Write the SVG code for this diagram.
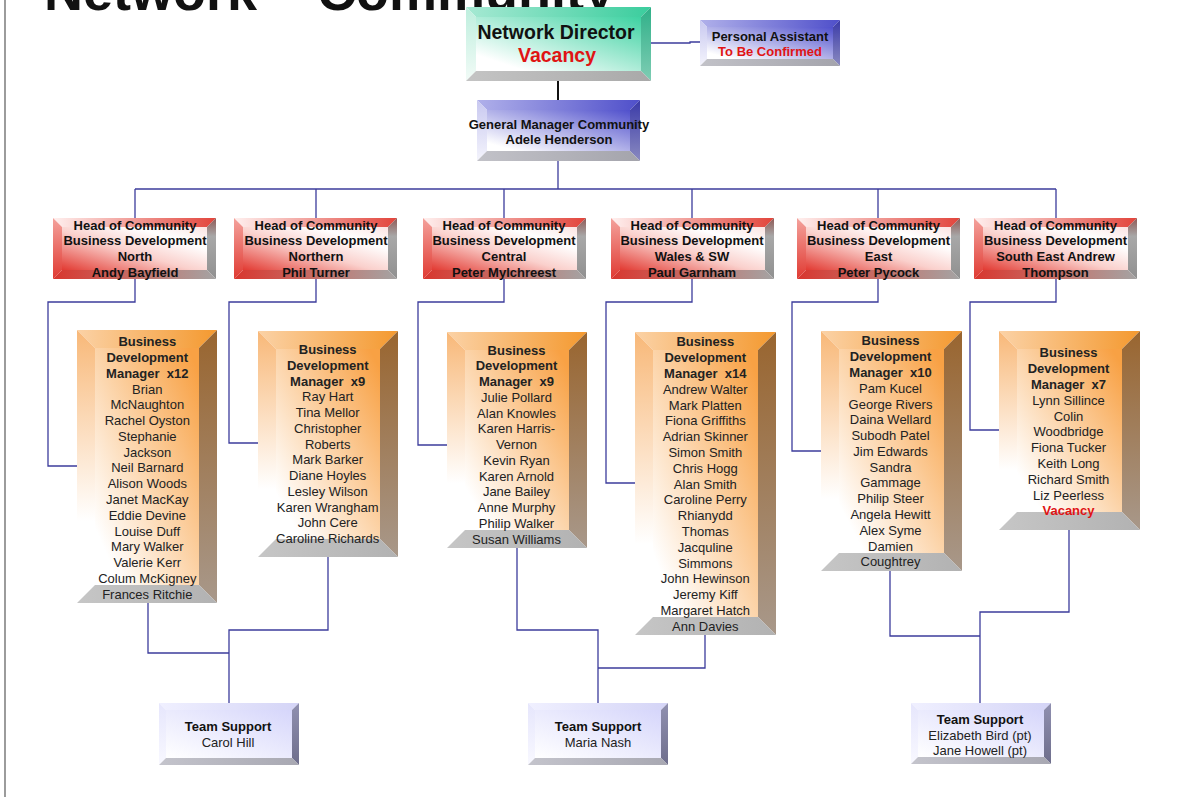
<svg xmlns="http://www.w3.org/2000/svg" width="1183" height="811" viewBox="0 0 1183 811">
<style>
text{font-family:"Liberation Sans",Arial,Helvetica,sans-serif;text-anchor:middle;fill:#111;font-size:13px}
.b{font-weight:bold}
.red{fill:#e01414}
.nm{fill:#222}
.c{fill:none;stroke:#3c3c9c;stroke-width:1.3}
.gT{fill:url(#gT)}.gL{fill:url(#gL)}.gR{fill:url(#gR)}.gB{fill:url(#gB)}.gF{fill:url(#gF)}
.bT{fill:url(#bT)}.bL{fill:url(#bL)}.bR{fill:url(#bR)}.bB{fill:url(#bB)}.bF{fill:url(#bF)}
.rT{fill:url(#rT)}.rL{fill:url(#rL)}.rR{fill:url(#rR)}.rB{fill:url(#rB)}.rF{fill:url(#rF)}
.oT{fill:url(#oT)}.oL{fill:url(#oL)}.oR{fill:url(#oR)}.oB{fill:url(#oB)}.oF{fill:url(#oF)}
.lT{fill:url(#lT)}.lL{fill:url(#lL)}.lR{fill:url(#lR)}.lB{fill:url(#lB)}.lF{fill:url(#lF)}
</style>
<defs>
<linearGradient id="gF" x1="0" y1="1" x2="1" y2="0"><stop offset="0.15" stop-color="#ffffff"/><stop offset="1" stop-color="#3ed2a2"/></linearGradient>
<linearGradient id="gT" x1="0" y1="0" x2="1" y2="0"><stop offset="0" stop-color="#a6e9d3"/><stop offset="1" stop-color="#3acd9d"/></linearGradient>
<linearGradient id="gL" x1="0" y1="0" x2="0" y2="1"><stop offset="0" stop-color="#bdeedd"/><stop offset="1" stop-color="#f2fbf7"/></linearGradient>
<linearGradient id="gR" x1="0" y1="0" x2="0" y2="1"><stop offset="0" stop-color="#2fb088"/><stop offset="1" stop-color="#7fcdb4"/></linearGradient>
<linearGradient id="gB" x1="0" y1="0" x2="1" y2="0"><stop offset="0" stop-color="#c4c4c4"/><stop offset="1" stop-color="#a9a9a9"/></linearGradient>

<linearGradient id="bF" x1="0" y1="1" x2="1" y2="0"><stop offset="0.1" stop-color="#ffffff"/><stop offset="1" stop-color="#5050cc"/></linearGradient>
<linearGradient id="bT" x1="0" y1="0" x2="1" y2="0"><stop offset="0" stop-color="#b0b0ea"/><stop offset="1" stop-color="#4f4fca"/></linearGradient>
<linearGradient id="bL" x1="0" y1="0" x2="0" y2="1"><stop offset="0" stop-color="#c8c8f0"/><stop offset="1" stop-color="#f4f4fc"/></linearGradient>
<linearGradient id="bR" x1="0" y1="0" x2="0" y2="1"><stop offset="0" stop-color="#3a3aa8"/><stop offset="1" stop-color="#8a8ac0"/></linearGradient>
<linearGradient id="bB" x1="0" y1="0" x2="1" y2="0"><stop offset="0" stop-color="#c2c2c8"/><stop offset="1" stop-color="#a4a4ac"/></linearGradient>

<linearGradient id="rF" x1="0" y1="1" x2="1" y2="0"><stop offset="0" stop-color="#e23a32"/><stop offset="0.45" stop-color="#fad0cc"/><stop offset="0.75" stop-color="#ffffff"/><stop offset="1" stop-color="#fbe4e2"/></linearGradient>
<linearGradient id="rT" x1="0" y1="0" x2="1" y2="0"><stop offset="0" stop-color="#fff0ef"/><stop offset="1" stop-color="#e2443b"/></linearGradient>
<linearGradient id="rL" x1="0" y1="0" x2="0" y2="1"><stop offset="0" stop-color="#f4a29c"/><stop offset="1" stop-color="#e03a32"/></linearGradient>
<linearGradient id="rR" x1="0" y1="0" x2="0" y2="1"><stop offset="0" stop-color="#8e5a56"/><stop offset="0.3" stop-color="#a8a8a8"/><stop offset="1" stop-color="#909090"/></linearGradient>
<linearGradient id="rB" x1="0" y1="0" x2="1" y2="0"><stop offset="0" stop-color="#d8362e"/><stop offset="0.6" stop-color="#c07a74"/><stop offset="1" stop-color="#a4a4a4"/></linearGradient>

<linearGradient id="oF" x1="0" y1="1" x2="1" y2="0"><stop offset="0.12" stop-color="#ffffff"/><stop offset="0.95" stop-color="#f8a144"/></linearGradient>
<linearGradient id="oT" x1="0" y1="0" x2="1" y2="0"><stop offset="0" stop-color="#fbd2a6"/><stop offset="1" stop-color="#f4992f"/></linearGradient>
<linearGradient id="oL" x1="0" y1="0" x2="0" y2="1"><stop offset="0" stop-color="#f8b878"/><stop offset="0.7" stop-color="#ffffff"/></linearGradient>
<linearGradient id="oR" x1="0" y1="0" x2="0" y2="1"><stop offset="0" stop-color="#99652f"/><stop offset="1" stop-color="#a8988a"/></linearGradient>
<linearGradient id="oB" x1="0" y1="0" x2="1" y2="0"><stop offset="0" stop-color="#c6c6c6"/><stop offset="1" stop-color="#b2b2b2"/></linearGradient>

<linearGradient id="lF" x1="0" y1="1" x2="1" y2="0"><stop offset="0" stop-color="#ffffff"/><stop offset="1" stop-color="#d6d6fb"/></linearGradient>
<linearGradient id="lT" x1="0" y1="0" x2="1" y2="0"><stop offset="0" stop-color="#f0f0ff"/><stop offset="1" stop-color="#d4d4f6"/></linearGradient>
<linearGradient id="lL" x1="0" y1="0" x2="0" y2="1"><stop offset="0" stop-color="#e6e6fc"/><stop offset="1" stop-color="#f8f8ff"/></linearGradient>
<linearGradient id="lR" x1="0" y1="0" x2="0" y2="1"><stop offset="0" stop-color="#9090b0"/><stop offset="1" stop-color="#6e6e8c"/></linearGradient>
<linearGradient id="lB" x1="0" y1="0" x2="1" y2="0"><stop offset="0" stop-color="#c4c4cc"/><stop offset="1" stop-color="#a8a8b2"/></linearGradient>
</defs>

<rect x="0" y="0" width="1183" height="811" fill="#ffffff"/>
<line x1="5" y1="0" x2="5" y2="797" stroke="#666" stroke-width="1.3"/>
<text x="44" y="10" class="b" style="font-size:54px;text-anchor:start;fill:#111">Network – Community</text>

<g id="connectors">
<path class="c" d="M651 43 H690 V42 H700"/>
<path d="M558 81 V100" fill="none" stroke="#111" stroke-width="2"/>
<path class="c" d="M558 161 V189 M135 189 H1056 M135 189 V218 M316 189 V218 M504 189 V218 M692 189 V218 M878 189 V218 M1056 189 V218"/>
<path class="c" d="M135 279 V302 H48 V466 H77"/>
<path class="c" d="M316 279 V302 H229 V443 H258"/>
<path class="c" d="M504 279 V302 H418 V445 H447"/>
<path class="c" d="M692 279 V302 H606 V483 H635"/>
<path class="c" d="M878 279 V302 H792 V451 H821"/>
<path class="c" d="M1056 279 V302 H970 V430 H999"/>
<path class="c" d="M148 603 V653 H229 M328 557 V630 H229 V703"/>
<path class="c" d="M517 548 V630 H598 V703 M705 635 V668 H598"/>
<path class="c" d="M890 571 V636 H980 M1069 530 V612 H980 V703"/>
</g>

<g id="network-director">
<polygon class="gT" points="466,7 651,7 641,17 476,17"/>
<polygon class="gL" points="466,7 476,17 476,71 466,81"/>
<polygon class="gR" points="651,7 651,81 641,71 641,17"/>
<polygon class="gB" points="466,81 476,71 641,71 651,81"/>
<rect class="gF" x="476" y="17" width="165" height="54"/>
<text x="556" y="38.5" class="b" style="font-size:19.5px">Network Director</text>
<text x="557" y="62" class="b red" style="font-size:19.5px">Vacancy</text>
</g>

<g id="personal-assistant">
<polygon class="bT" points="700,20 840,20 833,27 707,27"/>
<polygon class="bL" points="700,20 707,27 707,59 700,66"/>
<polygon class="bR" points="840,20 840,66 833,59 833,27"/>
<polygon class="bB" points="700,66 707,59 833,59 840,66"/>
<rect class="bF" x="707" y="27" width="126" height="32"/>
<text x="770" y="40.5" class="b">Personal Assistant</text>
<text x="770" y="55.5" class="b red">To Be Confirmed</text>
</g>

<g id="general-manager">
<polygon class="bT" points="477,100 640,100 630,110 487,110"/>
<polygon class="bL" points="477,100 487,110 487,151 477,161"/>
<polygon class="bR" points="640,100 640,161 630,151 630,110"/>
<polygon class="bB" points="477,161 487,151 630,151 640,161"/>
<rect class="bF" x="487" y="110" width="143" height="41"/>
<text x="559" y="128.5" class="b">General Manager Community</text>
<text x="559" y="143.5" class="b">Adele Henderson</text>
</g>

<g id="head-north">
<polygon class="rT" points="53,218 216,218 207,227 62,227"/>
<polygon class="rL" points="53,218 62,227 62,270 53,279"/>
<polygon class="rR" points="216,218 216,279 207,270 207,227"/>
<polygon class="rB" points="53,279 62,270 207,270 216,279"/>
<rect class="rF" x="62" y="227" width="145" height="43"/>
<text class="b" y="229.5"><tspan x="135">Head of Community</tspan><tspan x="135" dy="15.7">Business Development</tspan><tspan x="135" dy="15.7">North</tspan><tspan x="135" dy="15.7">Andy Bayfield</tspan></text>
</g>

<g id="head-northern">
<polygon class="rT" points="234,218 397,218 388,227 243,227"/>
<polygon class="rL" points="234,218 243,227 243,270 234,279"/>
<polygon class="rR" points="397,218 397,279 388,270 388,227"/>
<polygon class="rB" points="234,279 243,270 388,270 397,279"/>
<rect class="rF" x="243" y="227" width="145" height="43"/>
<text class="b" y="229.5"><tspan x="316">Head of Community</tspan><tspan x="316" dy="15.7">Business Development</tspan><tspan x="316" dy="15.7">Northern</tspan><tspan x="316" dy="15.7">Phil Turner</tspan></text>
</g>

<g id="head-central">
<polygon class="rT" points="423,218 586,218 577,227 432,227"/>
<polygon class="rL" points="423,218 432,227 432,270 423,279"/>
<polygon class="rR" points="586,218 586,279 577,270 577,227"/>
<polygon class="rB" points="423,279 432,270 577,270 586,279"/>
<rect class="rF" x="432" y="227" width="145" height="43"/>
<text class="b" y="229.5"><tspan x="504">Head of Community</tspan><tspan x="504" dy="15.7">Business Development</tspan><tspan x="504" dy="15.7">Central</tspan><tspan x="504" dy="15.7">Peter Mylchreest</tspan></text>
</g>

<g id="head-wales-sw">
<polygon class="rT" points="611,218 774,218 765,227 620,227"/>
<polygon class="rL" points="611,218 620,227 620,270 611,279"/>
<polygon class="rR" points="774,218 774,279 765,270 765,227"/>
<polygon class="rB" points="611,279 620,270 765,270 774,279"/>
<rect class="rF" x="620" y="227" width="145" height="43"/>
<text class="b" y="229.5"><tspan x="692">Head of Community</tspan><tspan x="692" dy="15.7">Business Development</tspan><tspan x="692" dy="15.7">Wales &amp; SW</tspan><tspan x="692" dy="15.7">Paul Garnham</tspan></text>
</g>

<g id="head-east">
<polygon class="rT" points="797,218 960,218 951,227 806,227"/>
<polygon class="rL" points="797,218 806,227 806,270 797,279"/>
<polygon class="rR" points="960,218 960,279 951,270 951,227"/>
<polygon class="rB" points="797,279 806,270 951,270 960,279"/>
<rect class="rF" x="806" y="227" width="145" height="43"/>
<text class="b" y="229.5"><tspan x="878.5">Head of Community</tspan><tspan x="878.5" dy="15.7">Business Development</tspan><tspan x="878.5" dy="15.7">East</tspan><tspan x="878.5" dy="15.7">Peter Pycock</tspan></text>
</g>

<g id="head-south-east">
<polygon class="rT" points="974,218 1137,218 1128,227 983,227"/>
<polygon class="rL" points="974,218 983,227 983,270 974,279"/>
<polygon class="rR" points="1137,218 1137,279 1128,270 1128,227"/>
<polygon class="rB" points="974,279 983,270 1128,270 1137,279"/>
<rect class="rF" x="983" y="227" width="145" height="43"/>
<text class="b" y="229.5"><tspan x="1055.5">Head of Community</tspan><tspan x="1055.5" dy="15.7">Business Development</tspan><tspan x="1055.5" dy="15.7">South East Andrew</tspan><tspan x="1055.5" dy="15.7">Thompson</tspan></text>
</g>

<g id="bdm-north">
<polygon class="oT" points="77,330 217,330 199,348 95,348"/>
<polygon class="oL" points="77,330 95,348 95,585 77,603"/>
<polygon class="oR" points="217,330 217,603 199,585 199,348"/>
<polygon class="oB" points="77,603 95,585 199,585 217,603"/>
<rect class="oF" x="95" y="348" width="104" height="237"/>
<text class="nm" y="346.3"><tspan x="147.3" class="b">Business</tspan><tspan x="147.3" dy="15.77" class="b">Development</tspan><tspan x="147.3" dy="15.77" class="b">Manager&#160; x12</tspan><tspan x="147.3" dy="15.77">Brian</tspan><tspan x="147.3" dy="15.77">McNaughton</tspan><tspan x="147.3" dy="15.77">Rachel Oyston</tspan><tspan x="147.3" dy="15.77">Stephanie</tspan><tspan x="147.3" dy="15.77">Jackson</tspan><tspan x="147.3" dy="15.77">Neil Barnard</tspan><tspan x="147.3" dy="15.77">Alison Woods</tspan><tspan x="147.3" dy="15.77">Janet MacKay</tspan><tspan x="147.3" dy="15.77">Eddie Devine</tspan><tspan x="147.3" dy="15.77">Louise Duff</tspan><tspan x="147.3" dy="15.77">Mary Walker</tspan><tspan x="147.3" dy="15.77">Valerie Kerr</tspan><tspan x="147.3" dy="15.77">Colum McKigney</tspan><tspan x="147.3" dy="15.77">Frances Ritchie</tspan></text>
</g>

<g id="bdm-northern">
<polygon class="oT" points="258,331 398,331 380,349 276,349"/>
<polygon class="oL" points="258,331 276,349 276,539 258,557"/>
<polygon class="oR" points="398,331 398,557 380,539 380,349"/>
<polygon class="oB" points="258,557 276,539 380,539 398,557"/>
<rect class="oF" x="276" y="349" width="104" height="190"/>
<text class="nm" y="354"><tspan x="327.7" class="b">Business</tspan><tspan x="327.7" dy="15.75" class="b">Development</tspan><tspan x="327.7" dy="15.75" class="b">Manager&#160; x9</tspan><tspan x="327.7" dy="15.75">Ray Hart</tspan><tspan x="327.7" dy="15.75">Tina Mellor</tspan><tspan x="327.7" dy="15.75">Christopher</tspan><tspan x="327.7" dy="15.75">Roberts</tspan><tspan x="327.7" dy="15.75">Mark Barker</tspan><tspan x="327.7" dy="15.75">Diane Hoyles</tspan><tspan x="327.7" dy="15.75">Lesley Wilson</tspan><tspan x="327.7" dy="15.75">Karen Wrangham</tspan><tspan x="327.7" dy="15.75">John Cere</tspan><tspan x="327.7" dy="15.75">Caroline Richards</tspan></text>
</g>

<g id="bdm-central">
<polygon class="oT" points="447,332 587,332 569,350 465,350"/>
<polygon class="oL" points="447,332 465,350 465,530 447,548"/>
<polygon class="oR" points="587,332 587,548 569,530 569,350"/>
<polygon class="oB" points="447,548 465,530 569,530 587,548"/>
<rect class="oF" x="465" y="350" width="104" height="180"/>
<text class="nm" y="354.7"><tspan x="516.5" class="b">Business</tspan><tspan x="516.5" dy="15.75" class="b">Development</tspan><tspan x="516.5" dy="15.75" class="b">Manager&#160; x9</tspan><tspan x="516.5" dy="15.75">Julie Pollard</tspan><tspan x="516.5" dy="15.75">Alan Knowles</tspan><tspan x="516.5" dy="15.75">Karen Harris-</tspan><tspan x="516.5" dy="15.75">Vernon</tspan><tspan x="516.5" dy="15.75">Kevin Ryan</tspan><tspan x="516.5" dy="15.75">Karen Arnold</tspan><tspan x="516.5" dy="15.75">Jane Bailey</tspan><tspan x="516.5" dy="15.75">Anne Murphy</tspan><tspan x="516.5" dy="15.75">Philip Walker</tspan><tspan x="516.5" dy="15.75">Susan Williams</tspan></text>
</g>

<g id="bdm-wales-sw">
<polygon class="oT" points="635,332 776,332 758,350 653,350"/>
<polygon class="oL" points="635,332 653,350 653,617 635,635"/>
<polygon class="oR" points="776,332 776,635 758,617 758,350"/>
<polygon class="oB" points="635,635 653,617 758,617 776,635"/>
<rect class="oF" x="653" y="350" width="105" height="267"/>
<text class="nm" y="346.4"><tspan x="705.3" class="b">Business</tspan><tspan x="705.3" dy="15.8" class="b">Development</tspan><tspan x="705.3" dy="15.8" class="b">Manager&#160; x14</tspan><tspan x="705.3" dy="15.8">Andrew Walter</tspan><tspan x="705.3" dy="15.8">Mark Platten</tspan><tspan x="705.3" dy="15.8">Fiona Griffiths</tspan><tspan x="705.3" dy="15.8">Adrian Skinner</tspan><tspan x="705.3" dy="15.8">Simon Smith</tspan><tspan x="705.3" dy="15.8">Chris Hogg</tspan><tspan x="705.3" dy="15.8">Alan Smith</tspan><tspan x="705.3" dy="15.8">Caroline Perry</tspan><tspan x="705.3" dy="15.8">Rhianydd</tspan><tspan x="705.3" dy="15.8">Thomas</tspan><tspan x="705.3" dy="15.8">Jacquline</tspan><tspan x="705.3" dy="15.8">Simmons</tspan><tspan x="705.3" dy="15.8">John Hewinson</tspan><tspan x="705.3" dy="15.8">Jeremy Kiff</tspan><tspan x="705.3" dy="15.8">Margaret Hatch</tspan><tspan x="705.3" dy="15.8">Ann Davies</tspan></text>
</g>

<g id="bdm-east">
<polygon class="oT" points="821,331 962,331 944,349 839,349"/>
<polygon class="oL" points="821,331 839,349 839,553 821,571"/>
<polygon class="oR" points="962,331 962,571 944,553 944,349"/>
<polygon class="oB" points="821,571 839,553 944,553 962,571"/>
<rect class="oF" x="839" y="349" width="105" height="204"/>
<text class="nm" y="345.4"><tspan x="890.5" class="b">Business</tspan><tspan x="890.5" dy="15.78" class="b">Development</tspan><tspan x="890.5" dy="15.78" class="b">Manager&#160; x10</tspan><tspan x="890.5" dy="15.78">Pam Kucel</tspan><tspan x="890.5" dy="15.78">George Rivers</tspan><tspan x="890.5" dy="15.78">Daina Wellard</tspan><tspan x="890.5" dy="15.78">Subodh Patel</tspan><tspan x="890.5" dy="15.78">Jim Edwards</tspan><tspan x="890.5" dy="15.78">Sandra</tspan><tspan x="890.5" dy="15.78">Gammage</tspan><tspan x="890.5" dy="15.78">Philip Steer</tspan><tspan x="890.5" dy="15.78">Angela Hewitt</tspan><tspan x="890.5" dy="15.78">Alex Syme</tspan><tspan x="890.5" dy="15.78">Damien</tspan><tspan x="890.5" dy="15.78">Coughtrey</tspan></text>
</g>

<g id="bdm-south-east">
<polygon class="oT" points="999,331 1140,331 1122,349 1017,349"/>
<polygon class="oL" points="999,331 1017,349 1017,512 999,530"/>
<polygon class="oR" points="1140,331 1140,530 1122,512 1122,349"/>
<polygon class="oB" points="999,530 1017,512 1122,512 1140,530"/>
<rect class="oF" x="1017" y="349" width="105" height="163"/>
<text class="nm" y="357.4"><tspan x="1068.5" class="b">Business</tspan><tspan x="1068.5" dy="15.8" class="b">Development</tspan><tspan x="1068.5" dy="15.8" class="b">Manager&#160; x7</tspan><tspan x="1068.5" dy="15.8">Lynn Sillince</tspan><tspan x="1068.5" dy="15.8">Colin</tspan><tspan x="1068.5" dy="15.8">Woodbridge</tspan><tspan x="1068.5" dy="15.8">Fiona Tucker</tspan><tspan x="1068.5" dy="15.8">Keith Long</tspan><tspan x="1068.5" dy="15.8">Richard Smith</tspan><tspan x="1068.5" dy="15.8">Liz Peerless</tspan><tspan x="1068.5" dy="15.8" class="b red">Vacancy</tspan></text>
</g>

<g id="team-support-1">
<polygon class="lT" points="159,703 299,703 292,710 166,710"/>
<polygon class="lL" points="159,703 166,710 166,758 159,765"/>
<polygon class="lR" points="299,703 299,765 292,758 292,710"/>
<polygon class="lB" points="159,765 166,758 292,758 299,765"/>
<rect class="lF" x="166" y="710" width="126" height="48"/>
<text x="228" y="731.4" class="b">Team Support</text>
<text x="228" y="747" class="nm">Carol Hill</text>
</g>

<g id="team-support-2">
<polygon class="lT" points="528,703 668,703 661,710 535,710"/>
<polygon class="lL" points="528,703 535,710 535,758 528,765"/>
<polygon class="lR" points="668,703 668,765 661,758 661,710"/>
<polygon class="lB" points="528,765 535,758 661,758 668,765"/>
<rect class="lF" x="535" y="710" width="126" height="48"/>
<text x="598" y="731.4" class="b">Team Support</text>
<text x="598" y="747" class="nm">Maria Nash</text>
</g>

<g id="team-support-3">
<polygon class="lT" points="911,703 1051,703 1044,710 918,710"/>
<polygon class="lL" points="911,703 918,710 918,757 911,764"/>
<polygon class="lR" points="1051,703 1051,764 1044,757 1044,710"/>
<polygon class="lB" points="911,764 918,757 1044,757 1051,764"/>
<rect class="lF" x="918" y="710" width="126" height="47"/>
<text x="980" y="724" class="b">Team Support</text>
<text x="980" y="739.7" class="nm">Elizabeth Bird (pt)</text>
<text x="980" y="755.4" class="nm">Jane Howell (pt)</text>
</g>
</svg>
